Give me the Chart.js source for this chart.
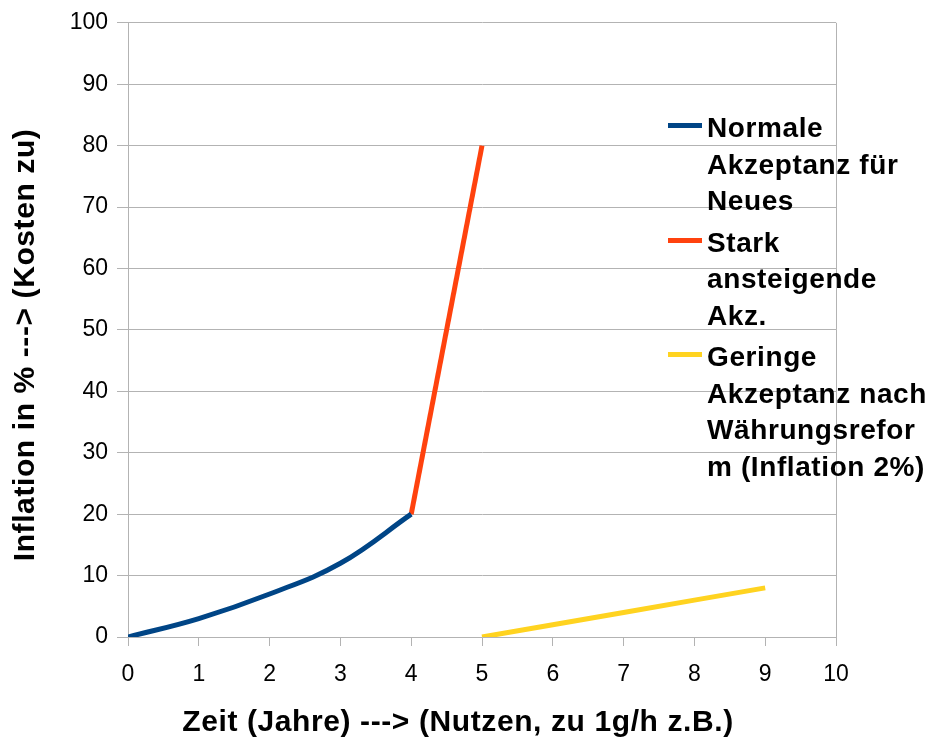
<!DOCTYPE html>
<html>
<head>
<meta charset="utf-8">
<script src="https://cdn.jsdelivr.net/npm/chart.js@4"></script>
<style>
  body { margin: 0; background: #fff; }
  #wrap { position: relative; width: 931px; height: 738px; }
  #legend {
    position: absolute; left: 668px; top: 110px;
    font: bold 28px "Liberation Sans", Arial, sans-serif;
    letter-spacing: 0.6px;
    line-height: 36.5px; color: #000;
  }
  .item { position: relative; padding-left: 39px; margin-bottom: 5px; white-space: nowrap; }
  .item span { position: absolute; left: 0; top: 13px; width: 34px; height: 5px; }
</style>
</head>
<body>
<div id="wrap">
  <canvas id="chart" width="931" height="738"></canvas>
  <div id="legend"></div>
</div>
<script>
// Daten
const normalX = [0, 1, 2, 3, 4];
const normalY = [0, 3, 7, 12, 20];
const starkX = [4, 5];
const starkY = [20, 80];
const geringX = [5, 6, 7, 8, 9];
const geringY = [0, 2, 4, 6, 8];

const legendLines = [
  ["Normale", "Akzeptanz für", "Neues"],
  ["Stark", "ansteigende", "Akz."],
  ["Geringe", "Akzeptanz nach", "Währungsrefor", "m (Inflation 2%)"],
];
const colors = ["#004586", "#ff420e", "#ffd320"];

const xTitle = "Zeit (Jahre) ---> (Nutzen, zu 1g/h z.B.)";
const yTitle = "Inflation in % ---> (Kosten zu)";

function points(xs, ys) {
  return xs.map((x, i) => ({ x, y: ys[i] }));
}

const gridColor = "#b3b3b3";
const font = "'Liberation Sans', Arial, sans-serif";

// Achsentitel selbst zeichnen (etwas gesperrt, wie im Original)
const axisTitles = {
  id: "axisTitles",
  afterDraw(chart) {
    const { ctx, chartArea } = chart;
    ctx.save();
    ctx.font = "bold 30px " + font;
    ctx.letterSpacing = "0.6px";
    ctx.fillStyle = "#000";
    ctx.textAlign = "center";
    ctx.textBaseline = "middle";
    ctx.fillText(xTitle, (chartArea.left + chartArea.right) / 2 - 24, 723);
    ctx.translate(26, (chartArea.top + chartArea.bottom) / 2 + 15);
    ctx.rotate(-Math.PI / 2);
    ctx.fillText(yTitle, 0, 0);
    ctx.restore();
  },
};

new Chart(document.getElementById("chart"), {
  type: "line",
  data: {
    datasets: [
      { label: legendLines[0].join(" "), data: points(normalX, normalY), borderColor: colors[0], tension: 0.4 },
      { label: legendLines[1].join(" "), data: points(starkX, starkY), borderColor: colors[1] },
      { label: legendLines[2].join(" "), data: points(geringX, geringY), borderColor: colors[2] },
    ],
  },
  options: {
    responsive: false,
    animation: false,
    layout: { padding: { top: 22, right: 95, left: 0, bottom: 0 } },
    elements: {
      point: { radius: 0 },
      line: { borderWidth: 5, borderCapStyle: "butt" },
    },
    plugins: { legend: { display: false }, tooltip: { enabled: false } },
    scales: {
      x: {
        type: "linear",
        min: 0,
        max: 10,
        ticks: { stepSize: 1, color: "#000", font: { family: font, size: 23 }, padding: 15 },
        grid: {
          color: (c) => (c.tick && c.tick.value === 10 ? gridColor : "transparent"),
          tickColor: gridColor,
          tickLength: 9,
        },
        border: { color: gridColor },
        afterFit: (s) => { s.height = 101; },
      },
      y: {
        min: 0,
        max: 100,
        ticks: { stepSize: 10, color: "#000", font: { family: font, size: 23 }, padding: 9 },
        grid: { color: gridColor, tickColor: gridColor, tickLength: 11 },
        border: { color: gridColor },
        afterFit: (s) => { s.width = 128; },
      },
    },
  },
  plugins: [axisTitles],
});

// Legende als HTML, Zeilen wie im Original umbrochen
const legend = document.getElementById("legend");
legendLines.forEach((lines, i) => {
  const div = document.createElement("div");
  div.className = "item";
  const sw = document.createElement("span");
  sw.style.background = colors[i];
  div.appendChild(sw);
  lines.forEach((t, j) => {
    if (j > 0) div.appendChild(document.createElement("br"));
    div.appendChild(document.createTextNode(t));
  });
  legend.appendChild(div);
});
</script>
</body>
</html>
